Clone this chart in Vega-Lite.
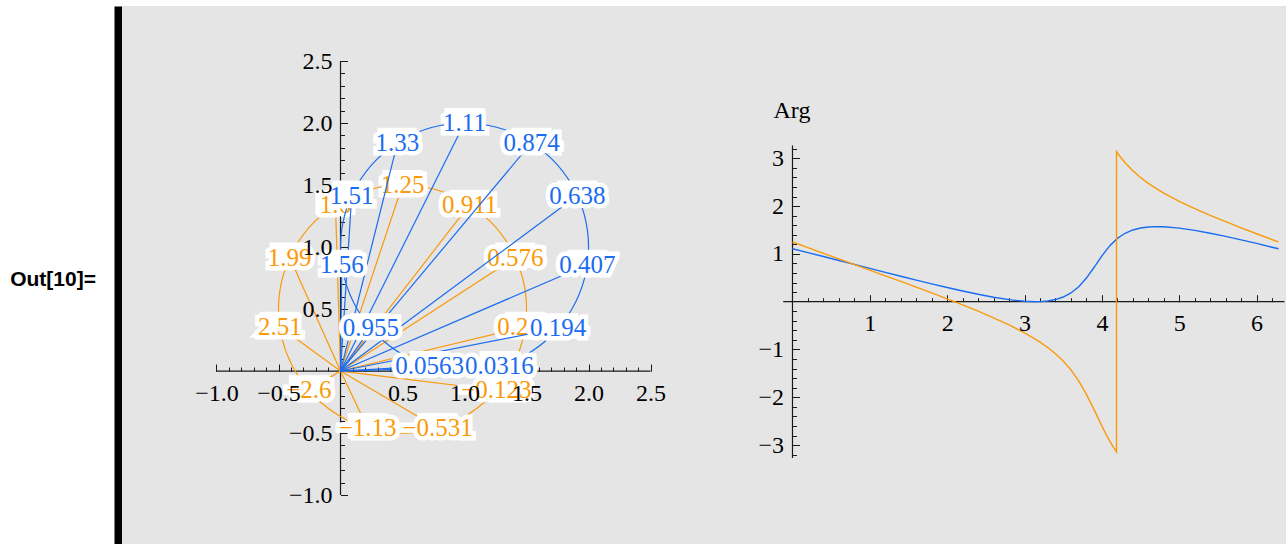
{
  "$schema": "https://vega.github.io/schema/vega-lite/v6.json",
  "background": "white",
  "padding": {"left": 0, "top": 6, "right": 0, "bottom": 0},
  "bounds": "flush",
  "spacing": 0,
  "config": {
    "view": {"stroke": null},
    "axis": {"domain": false, "grid": false, "labelFont": "Liberation Serif", "labelFontSize": 24, "labelColor": "#000000", "tickColor": "#1a1a1a", "tickWidth": 1, "labelOverlap": false, "labelFlush": false, "titleFont": "Liberation Serif", "titleFontSize": 24, "titleFontWeight": "normal", "titleColor": "#000000"}
  },
  "datasets": {
    "axL": [{"x": -1, "x2": 2.5, "y": 0, "y2": 0}, {"x": 0, "x2": 0, "y": -1, "y2": 2.5}],
    "axR": [{"x": -0.12, "x2": 6.36, "y": 0, "y2": 0}, {"x": 0, "x2": 0, "y": -3.27, "y2": 3.27}],
    "circ": [
      {"c": "b", "k": 0, "x": 2, "y": 1}, {"c": "b", "k": 1, "x": 1.9659, "y": 1.2588}, {"c": "b", "k": 2, "x": 1.866, "y": 1.5}, {"c": "b", "k": 3, "x": 1.7071, "y": 1.7071}, {"c": "b", "k": 4, "x": 1.5, "y": 1.866}, {"c": "b", "k": 5, "x": 1.2588, "y": 1.9659}, {"c": "b", "k": 6, "x": 1, "y": 2}, {"c": "b", "k": 7, "x": 0.7412, "y": 1.9659}, {"c": "b", "k": 8, "x": 0.5, "y": 1.866}, {"c": "b", "k": 9, "x": 0.2929, "y": 1.7071}, {"c": "b", "k": 10, "x": 0.134, "y": 1.5}, {"c": "b", "k": 11, "x": 0.0341, "y": 1.2588}, {"c": "b", "k": 12, "x": 0, "y": 1}, {"c": "b", "k": 13, "x": 0.0341, "y": 0.7412}, {"c": "b", "k": 14, "x": 0.134, "y": 0.5}, {"c": "b", "k": 15, "x": 0.2929, "y": 0.2929}, {"c": "b", "k": 16, "x": 0.5, "y": 0.134}, {"c": "b", "k": 17, "x": 0.7412, "y": 0.0341}, {"c": "b", "k": 18, "x": 1, "y": 0}, {"c": "b", "k": 19, "x": 1.2588, "y": 0.0341}, {"c": "b", "k": 20, "x": 1.5, "y": 0.134}, {"c": "b", "k": 21, "x": 1.7071, "y": 0.2929}, {"c": "b", "k": 22, "x": 1.866, "y": 0.5}, {"c": "b", "k": 23, "x": 1.9659, "y": 0.7412},
      {"c": "o", "k": 0, "x": 1.5, "y": 0.5}, {"c": "o", "k": 1, "x": 1.4659, "y": 0.7588}, {"c": "o", "k": 2, "x": 1.366, "y": 1.0}, {"c": "o", "k": 3, "x": 1.2071, "y": 1.2071}, {"c": "o", "k": 4, "x": 1.0, "y": 1.366}, {"c": "o", "k": 5, "x": 0.7588, "y": 1.4659}, {"c": "o", "k": 6, "x": 0.5, "y": 1.5}, {"c": "o", "k": 7, "x": 0.2412, "y": 1.4659}, {"c": "o", "k": 8, "x": 0.0, "y": 1.366}, {"c": "o", "k": 9, "x": -0.2071, "y": 1.2071}, {"c": "o", "k": 10, "x": -0.366, "y": 1.0}, {"c": "o", "k": 11, "x": -0.4659, "y": 0.7588}, {"c": "o", "k": 12, "x": -0.5, "y": 0.5}, {"c": "o", "k": 13, "x": -0.4659, "y": 0.2412}, {"c": "o", "k": 14, "x": -0.366, "y": 0.0}, {"c": "o", "k": 15, "x": -0.2071, "y": -0.2071}, {"c": "o", "k": 16, "x": 0.0, "y": -0.366}, {"c": "o", "k": 17, "x": 0.2412, "y": -0.4659}, {"c": "o", "k": 18, "x": 0.5, "y": -0.5}, {"c": "o", "k": 19, "x": 0.7588, "y": -0.4659}, {"c": "o", "k": 20, "x": 1.0, "y": -0.366}, {"c": "o", "k": 21, "x": 1.2071, "y": -0.2071}, {"c": "o", "k": 22, "x": 1.366, "y": 0.0}, {"c": "o", "k": 23, "x": 1.4659, "y": 0.2412}
    ],
    "pts": [
      {"c": "o", "ox": 0, "oy": 0, "x": 0.5, "y": 1.5, "lab": "1.25"},
      {"c": "o", "ox": 0, "oy": 0, "x": 1.0406, "y": 1.3413, "lab": "0.911"},
      {"c": "o", "ox": 0, "oy": 0, "x": 1.4096, "y": 0.9154, "lab": "0.576"},
      {"c": "o", "ox": 0, "oy": 0, "x": 1.4898, "y": 0.3577, "lab": "0.236"},
      {"c": "o", "ox": 0, "oy": 0, "x": 1.2557, "y": -0.1549, "lab": "−0.123"},
      {"c": "o", "ox": 0, "oy": 0, "x": 0.7817, "y": -0.4595, "lab": "−0.531"},
      {"c": "o", "ox": 0, "oy": 0, "x": 0.2183, "y": -0.4595, "lab": "−1.13"},
      {"c": "o", "ox": 0, "oy": 0, "x": -0.2557, "y": -0.1549, "lab": "−2.6"},
      {"c": "o", "ox": 0, "oy": 0, "x": -0.4898, "y": 0.3577, "lab": "2.51"},
      {"c": "o", "ox": 0, "oy": 0, "x": -0.4096, "y": 0.9154, "lab": "1.99"},
      {"c": "o", "ox": 0, "oy": 0, "x": -0.0406, "y": 1.3413, "lab": "1.6"},
      {"c": "b", "ox": 0, "oy": 0, "x": 1, "y": 2, "lab": "1.11"},
      {"c": "b", "ox": 0, "oy": 0, "x": 1.5406, "y": 1.8413, "lab": "0.874"},
      {"c": "b", "ox": 0, "oy": 0, "x": 1.9096, "y": 1.4154, "lab": "0.638"},
      {"c": "b", "ox": 0, "oy": 0, "x": 1.9898, "y": 0.8577, "lab": "0.407"},
      {"c": "b", "ox": 0, "oy": 0, "x": 1.7557, "y": 0.3451, "lab": "0.194"},
      {"c": "b", "ox": 0, "oy": 0, "x": 1.2817, "y": 0.0405, "lab": "0.0316"},
      {"c": "b", "ox": 0, "oy": 0, "x": 0.7183, "y": 0.0405, "lab": "0.0563"},
      {"c": "b", "ox": 0, "oy": 0, "x": 0.2443, "y": 0.3451, "lab": "0.955"},
      {"c": "b", "ox": 0, "oy": 0, "x": 0.0102, "y": 0.8577, "lab": "1.56"},
      {"c": "b", "ox": 0, "oy": 0, "x": 0.0904, "y": 1.4154, "lab": "1.51"},
      {"c": "b", "ox": 0, "oy": 0, "x": 0.4594, "y": 1.8413, "lab": "1.33"}
    ],
    "arg": [
      {"s": "b", "t": 0, "a": 1.107}, {"s": "b", "t": 0.2, "a": 1.026}, {"s": "b", "t": 0.4, "a": 0.945}, {"s": "b", "t": 0.6, "a": 0.862}, {"s": "b", "t": 0.8, "a": 0.78}, {"s": "b", "t": 1.0, "a": 0.696}, {"s": "b", "t": 1.2, "a": 0.614}, {"s": "b", "t": 1.4, "a": 0.533}, {"s": "b", "t": 1.6, "a": 0.452}, {"s": "b", "t": 1.8, "a": 0.373}, {"s": "b", "t": 2.0, "a": 0.297}, {"s": "b", "t": 2.2, "a": 0.224}, {"s": "b", "t": 2.4, "a": 0.155}, {"s": "b", "t": 2.6, "a": 0.094}, {"s": "b", "t": 2.8, "a": 0.043}, {"s": "b", "t": 3.0, "a": 0.009}, {"s": "b", "t": 3.1416, "a": 0}, {"s": "b", "t": 3.2, "a": 0.002}, {"s": "b", "t": 3.3, "a": 0.015}, {"s": "b", "t": 3.4, "a": 0.045}, {"s": "b", "t": 3.5, "a": 0.098}, {"s": "b", "t": 3.6, "a": 0.183}, {"s": "b", "t": 3.7, "a": 0.314}, {"s": "b", "t": 3.8, "a": 0.494}, {"s": "b", "t": 3.9, "a": 0.72}, {"s": "b", "t": 4.0, "a": 0.959}, {"s": "b", "t": 4.1, "a": 1.167}, {"s": "b", "t": 4.2, "a": 1.324}, {"s": "b", "t": 4.3, "a": 1.432}, {"s": "b", "t": 4.4, "a": 1.501}, {"s": "b", "t": 4.5, "a": 1.542}, {"s": "b", "t": 4.6, "a": 1.564}, {"s": "b", "t": 4.7, "a": 1.571}, {"s": "b", "t": 4.8, "a": 1.567}, {"s": "b", "t": 5.0, "a": 1.539}, {"s": "b", "t": 5.2, "a": 1.492}, {"s": "b", "t": 5.4, "a": 1.433}, {"s": "b", "t": 5.6, "a": 1.366}, {"s": "b", "t": 5.8, "a": 1.294}, {"s": "b", "t": 6.0, "a": 1.219}, {"s": "b", "t": 6.2, "a": 1.14}, {"s": "b", "t": 6.2832, "a": 1.107},
      {"s": "o", "t": 0, "a": 1.249}, {"s": "o", "t": 0.2, "a": 1.13}, {"s": "o", "t": 0.4, "a": 1.012}, {"s": "o", "t": 0.6, "a": 0.894}, {"s": "o", "t": 0.8, "a": 0.777}, {"s": "o", "t": 1.0, "a": 0.66}, {"s": "o", "t": 1.2, "a": 0.542}, {"s": "o", "t": 1.4, "a": 0.424}, {"s": "o", "t": 1.6, "a": 0.304}, {"s": "o", "t": 1.8, "a": 0.183}, {"s": "o", "t": 2.0, "a": 0.059}, {"s": "o", "t": 2.2, "a": -0.068}, {"s": "o", "t": 2.4, "a": -0.199}, {"s": "o", "t": 2.6, "a": -0.338}, {"s": "o", "t": 2.8, "a": -0.487}, {"s": "o", "t": 2.9, "a": -0.567}, {"s": "o", "t": 3.0, "a": -0.653}, {"s": "o", "t": 3.1, "a": -0.745}, {"s": "o", "t": 3.2, "a": -0.846}, {"s": "o", "t": 3.3, "a": -0.959}, {"s": "o", "t": 3.4, "a": -1.088}, {"s": "o", "t": 3.5, "a": -1.241}, {"s": "o", "t": 3.6, "a": -1.427}, {"s": "o", "t": 3.7, "a": -1.658}, {"s": "o", "t": 3.8, "a": -1.938}, {"s": "o", "t": 3.9, "a": -2.264}, {"s": "o", "t": 4.0, "a": -2.602}, {"s": "o", "t": 4.05, "a": -2.763}, {"s": "o", "t": 4.1, "a": -2.911}, {"s": "o", "t": 4.15, "a": -3.047}, {"s": "o", "t": 4.1888, "a": -3.1416}, {"s": "o", "t": 4.1889, "a": 3.1416}, {"s": "o", "t": 4.25, "a": 3.006}, {"s": "o", "t": 4.3, "a": 2.908}, {"s": "o", "t": 4.4, "a": 2.738}, {"s": "o", "t": 4.5, "a": 2.597}, {"s": "o", "t": 4.6, "a": 2.476}, {"s": "o", "t": 4.7, "a": 2.369}, {"s": "o", "t": 4.8, "a": 2.272}, {"s": "o", "t": 5.0, "a": 2.101}, {"s": "o", "t": 5.2, "a": 1.947}, {"s": "o", "t": 5.4, "a": 1.807}, {"s": "o", "t": 5.6, "a": 1.673}, {"s": "o", "t": 5.8, "a": 1.545}, {"s": "o", "t": 6.0, "a": 1.421}, {"s": "o", "t": 6.2, "a": 1.299}, {"s": "o", "t": 6.2832, "a": 1.249}
    ]
  },
  "hconcat": [
    {
      "width": 122,
      "height": 538,
      "data": {"values": [{"lab": "Out[10]=", "v": 0}]},
      "mark": {"type": "text", "font": "Liberation Sans", "fontSize": 21, "fontWeight": "bold", "color": "#000000", "dx": -8, "dy": 4.5, "align": "center", "baseline": "middle"},
      "encoding": {
        "text": {"field": "lab", "type": "nominal"},
        "y": {"field": "v", "type": "quantitative", "scale": {"domain": [-1, 1]}, "axis": {"orient": "right", "offset": -4, "domain": true, "domainColor": "#000000", "domainWidth": 8, "ticks": false, "labels": false, "title": null}}
      }
    },
    {
      "width": 598,
      "height": 538,
      "view": {"fill": "#e5e5e5"},
      "resolve": {"axis": {"x": "independent", "y": "independent"}},
      "layer": [
        {
          "data": {"name": "axL"},
          "mark": {"type": "rule", "color": "#1a1a1a", "strokeWidth": 1.2},
          "encoding": {
            "x": {"field": "x", "type": "quantitative", "scale": {"domain": [-1.762, 3.06], "nice": false, "zero": false}, "axis": {"orient": "bottom", "offset": -173, "values": [-1, -0.9, -0.8, -0.7, -0.6, -0.5, -0.4, -0.3, -0.2, -0.1, 0.1, 0.2, 0.3, 0.4, 0.5, 0.6, 0.7, 0.8, 0.9, 1, 1.1, 1.2, 1.3, 1.4, 1.5, 1.6, 1.7, 1.8, 1.9, 2, 2.1, 2.2, 2.3, 2.4, 2.5], "tickSize": -4, "labels": false, "title": null, "zindex": 0}},
            "x2": {"field": "x2"},
            "y": {"field": "y", "type": "quantitative", "scale": {"domain": [-1.395, 2.944], "nice": false, "zero": false}, "axis": {"orient": "left", "offset": -218.5, "values": [-1, -0.9, -0.8, -0.7, -0.6, -0.5, -0.4, -0.3, -0.2, -0.1, 0.1, 0.2, 0.3, 0.4, 0.5, 0.6, 0.7, 0.8, 0.9, 1, 1.1, 1.2, 1.3, 1.4, 1.5, 1.6, 1.7, 1.8, 1.9, 2, 2.1, 2.2, 2.3, 2.4, 2.5], "tickSize": -4, "labels": false, "title": null, "zindex": 0}},
            "y2": {"field": "y2"}
          }
        },
        {
          "data": {"name": "circ"},
          "transform": [{"filter": "datum.c == 'o'"}],
          "mark": {"type": "line", "interpolate": "cardinal-closed", "color": "#fa9a0a", "strokeWidth": 1.2},
          "encoding": {
            "x": {"field": "x", "type": "quantitative", "scale": {"domain": [-1.762, 3.06], "nice": false, "zero": false}, "axis": {"orient": "bottom", "offset": -173, "values": [-1, -0.5, 0.5, 1, 1.5, 2, 2.5], "tickSize": -7, "labels": false, "title": null, "zindex": 0}},
            "y": {"field": "y", "type": "quantitative", "scale": {"domain": [-1.395, 2.944], "nice": false, "zero": false}, "axis": {"orient": "left", "offset": -218.5, "values": [-1, -0.5, 0.5, 1, 1.5, 2, 2.5], "tickSize": -7, "labels": false, "title": null, "zindex": 0}},
            "order": {"field": "k", "type": "quantitative"}
          }
        },
        {
          "data": {"name": "pts"},
          "transform": [{"filter": "datum.c == 'o'"}],
          "mark": {"type": "rule", "color": "#fa9a0a", "strokeWidth": 1.2},
          "encoding": {
            "x": {"field": "ox", "type": "quantitative", "axis": null},
            "y": {"field": "oy", "type": "quantitative", "axis": null},
            "x2": {"field": "x"},
            "y2": {"field": "y"}
          }
        },
        {
          "data": {"name": "pts"},
          "transform": [{"filter": "datum.c == 'o'"}],
          "mark": {"type": "point", "shape": "M-0.8,-0.6H0.8V0.42H-0.8Z", "size": 2500, "filled": true, "fill": "white", "opacity": 1, "strokeWidth": 0},
          "encoding": {
            "x": {"field": "x", "type": "quantitative", "axis": null},
            "y": {"field": "y", "type": "quantitative", "axis": null}
          }
        },
        {
          "data": {"name": "pts"},
          "transform": [{"filter": "datum.c == 'o'"}],
          "mark": {"type": "text", "font": "Liberation Serif", "fontSize": 25, "fill": "white", "stroke": "white", "strokeWidth": 9, "strokeJoin": "miter", "baseline": "middle", "align": "center"},
          "encoding": {
            "x": {"field": "x", "type": "quantitative", "axis": null},
            "y": {"field": "y", "type": "quantitative", "axis": null},
            "text": {"field": "lab", "type": "nominal"}
          }
        },
        {
          "data": {"name": "pts"},
          "transform": [{"filter": "datum.c == 'o'"}],
          "mark": {"type": "text", "font": "Liberation Serif", "fontSize": 25, "color": "#fa9a0a", "baseline": "middle", "align": "center"},
          "encoding": {
            "x": {"field": "x", "type": "quantitative", "axis": null},
            "y": {"field": "y", "type": "quantitative", "axis": null},
            "text": {"field": "lab", "type": "nominal"}
          }
        },
        {
          "data": {"name": "circ"},
          "transform": [{"filter": "datum.c == 'b'"}],
          "mark": {"type": "line", "interpolate": "cardinal-closed", "color": "#1a6cf0", "strokeWidth": 1.2},
          "encoding": {
            "x": {"field": "x", "type": "quantitative", "axis": null},
            "y": {"field": "y", "type": "quantitative", "axis": null},
            "order": {"field": "k", "type": "quantitative"}
          }
        },
        {
          "data": {"name": "pts"},
          "transform": [{"filter": "datum.c == 'b'"}],
          "mark": {"type": "rule", "color": "#1a6cf0", "strokeWidth": 1.2},
          "encoding": {
            "x": {"field": "ox", "type": "quantitative", "axis": null},
            "y": {"field": "oy", "type": "quantitative", "axis": null},
            "x2": {"field": "x"},
            "y2": {"field": "y"}
          }
        },
        {
          "data": {"name": "pts"},
          "transform": [{"filter": "datum.c == 'b'"}],
          "mark": {"type": "point", "shape": "M-0.8,-0.6H0.8V0.42H-0.8Z", "size": 2500, "filled": true, "fill": "white", "opacity": 1, "strokeWidth": 0},
          "encoding": {
            "x": {"field": "x", "type": "quantitative", "axis": null},
            "y": {"field": "y", "type": "quantitative", "axis": null}
          }
        },
        {
          "data": {"name": "pts"},
          "transform": [{"filter": "datum.c == 'b'"}],
          "mark": {"type": "text", "font": "Liberation Serif", "fontSize": 25, "fill": "white", "stroke": "white", "strokeWidth": 9, "strokeJoin": "miter", "baseline": "middle", "align": "center"},
          "encoding": {
            "x": {"field": "x", "type": "quantitative", "axis": null},
            "y": {"field": "y", "type": "quantitative", "axis": null},
            "text": {"field": "lab", "type": "nominal"}
          }
        },
        {
          "data": {"name": "pts"},
          "transform": [{"filter": "datum.c == 'b'"}],
          "mark": {"type": "text", "font": "Liberation Serif", "fontSize": 25, "color": "#1a6cf0", "baseline": "middle", "align": "center"},
          "encoding": {
            "x": {"field": "x", "type": "quantitative", "axis": {"orient": "bottom", "offset": -173, "values": [-1, -0.5, 0.5, 1, 1.5, 2, 2.5], "format": ".1f", "ticks": false, "labelPadding": 10.5, "title": null, "zindex": 1}},
            "y": {"field": "y", "type": "quantitative", "axis": {"orient": "left", "offset": -218.5, "values": [-1, -0.5, 0.5, 1, 1.5, 2, 2.5], "format": ".1f", "ticks": false, "labelPadding": 8.5, "title": null, "zindex": 1}},
            "text": {"field": "lab", "type": "nominal"}
          }
        }
      ]
    },
    {
      "width": 566,
      "height": 538,
      "view": {"fill": "#e5e5e5"},
      "resolve": {"axis": {"x": "independent", "y": "independent"}},
      "layer": [
        {
          "data": {"name": "axR"},
          "mark": {"type": "rule", "color": "#1a1a1a", "strokeWidth": 1.2},
          "encoding": {
            "x": {"field": "x", "type": "quantitative", "scale": {"domain": [-0.937, 6.38], "nice": false, "zero": false}, "axis": {"orient": "bottom", "offset": -242.3, "values": [0.2, 0.4, 0.6, 0.8, 1, 1.2, 1.4, 1.6, 1.8, 2, 2.2, 2.4, 2.6, 2.8, 3, 3.2, 3.4, 3.6, 3.8, 4, 4.2, 4.4, 4.6, 4.8, 5, 5.2, 5.4, 5.6, 5.8, 6, 6.2], "tickSize": -4, "labels": false, "title": null, "zindex": 0}},
            "x2": {"field": "x2"},
            "y": {"field": "y", "type": "quantitative", "scale": {"domain": [-5.069, 6.186], "nice": false, "zero": false}, "axis": {"orient": "left", "offset": -72.5, "values": [-3.2, -3, -2.8, -2.6, -2.4, -2.2, -2, -1.8, -1.6, -1.4, -1.2, -1, -0.8, -0.6, -0.4, -0.2, 0.2, 0.4, 0.6, 0.8, 1, 1.2, 1.4, 1.6, 1.8, 2, 2.2, 2.4, 2.6, 2.8, 3, 3.2], "tickSize": -4, "labels": false, "title": null, "zindex": 0}},
            "y2": {"field": "y2"}
          }
        },
        {
          "data": {"name": "arg"},
          "transform": [{"filter": "datum.s == 'b'"}],
          "mark": {"type": "line", "color": "#1a6cf0", "strokeWidth": 1.4},
          "encoding": {
            "x": {"field": "t", "type": "quantitative", "scale": {"domain": [-0.937, 6.38], "nice": false, "zero": false}, "axis": {"orient": "bottom", "offset": -242.3, "values": [1, 2, 3, 4, 5, 6], "tickSize": -7, "labels": false, "title": null, "zindex": 0}},
            "y": {"field": "a", "type": "quantitative", "scale": {"domain": [-5.069, 6.186], "nice": false, "zero": false}, "axis": {"orient": "left", "offset": -72.5, "values": [-3, -2, -1, 1, 2, 3], "tickSize": -7, "labels": false, "title": null, "zindex": 0}},
            "order": {"field": "t", "type": "quantitative"}
          }
        },
        {
          "data": {"name": "arg"},
          "transform": [{"filter": "datum.s == 'o'"}],
          "mark": {"type": "line", "color": "#fa9a0a", "strokeWidth": 1.4},
          "encoding": {
            "x": {"field": "t", "type": "quantitative", "axis": {"orient": "bottom", "offset": -242.3, "values": [1, 2, 3, 4, 5, 6], "format": "d", "ticks": false, "labelPadding": 10, "title": null, "zindex": 1}},
            "y": {"field": "a", "type": "quantitative", "axis": {"orient": "left", "offset": -72.5, "values": [-3, -2, -1, 1, 2, 3], "format": "d", "ticks": false, "labelPadding": 9, "title": "Arg", "titleAngle": 0, "titleAlign": "left", "titleBaseline": "alphabetic", "titleX": -19.5, "titleY": 111, "zindex": 1}},
            "order": {"field": "t", "type": "quantitative"}
          }
        }
      ]
    }
  ]
}
